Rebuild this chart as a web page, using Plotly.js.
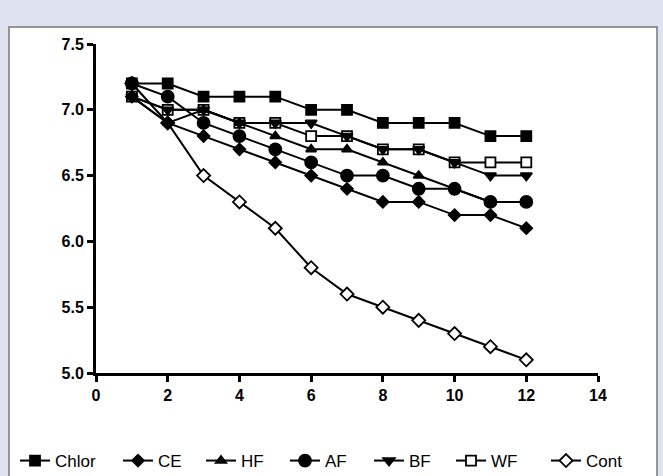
<!DOCTYPE html>
<html>
<head>
<meta charset="utf-8">
<script src="https://cdn.plot.ly/plotly-3.0.1.min.js"></script>
<style>html,body{margin:0;padding:0;background:#dfe3f0;}#chart{width:663px;height:476px;}</style>
</head>
<body>
<div id="chart"></div>
<script>
const days = [1,2,3,4,5,6,7,8,9,10,11,12];
const seriesNames = ["Chlor","CE","HF","AF","BF","WF","Cont"];
const chlor = [7.2,7.2,7.1,7.1,7.1,7.0,7.0,6.9,6.9,6.9,6.8,6.8];
const ce    = [7.1,6.9,6.8,6.7,6.6,6.5,6.4,6.3,6.3,6.2,6.2,6.1];
const hf    = [7.1,6.9,7.0,6.9,6.8,6.7,6.7,6.6,6.5,6.4,6.3,6.3];
const af    = [7.2,7.1,6.9,6.8,6.7,6.6,6.5,6.5,6.4,6.4,6.3,6.3];
const bf    = [7.1,7.0,7.0,6.9,6.9,6.9,6.8,6.7,6.7,6.6,6.5,6.5];
const wf    = [7.1,7.0,7.0,6.9,6.9,6.8,6.8,6.7,6.7,6.6,6.6,6.6];
const cont  = [7.2,6.9,6.5,6.3,6.1,5.8,5.6,5.5,5.4,5.3,5.2,5.1];
const xTicks = [0,2,4,6,8,10,12,14];
const yTicks = [5.0,5.5,6.0,6.5,7.0,7.5];

const values = [chlor,ce,hf,af,bf,wf,cont];
const symbols = ["square","diamond","triangle-up","circle","triangle-down","square","diamond"];
const sizes = [10,9,9,12,10,10,10];
const fills = ["black","black","black","black","black","white","white"];
// legend entry left edges (px) in the window
const legendStarts = [20,123,206,290,374,456,551];

const W = 663, H = 476, L = 96, R = 65, T = 44, B = 103;
const pw = W - L - R, ph = H - T - B;
const px = v => (v - L) / pw;
const py = v => (H - B - v) / ph;

const legendKey = i => (i === 0 ? "legend" : "legend" + (i + 1));

const traces = [];
for (let i = values.length - 1; i >= 0; i--) {
  traces.push({
    x: days, y: values[i], name: seriesNames[i], type: "scatter", mode: "lines+markers",
    legend: legendKey(i),
    line: {color: "black", width: 2},
    marker: {symbol: symbols[i], size: sizes[i], color: fills[i], line: {color: "black", width: 1.8}}
  });
}

const tickFont = {size: 16, family: "Liberation Sans, Arial", weight: "bold", color: "black"};
const layout = {
  width: W, height: H,
  margin: {l: L, r: R, t: T, b: B, pad: 0, autoexpand: false},
  paper_bgcolor: "#dfe3f0",
  plot_bgcolor: "rgba(0,0,0,0)",
  font: {family: "Liberation Sans, Arial, sans-serif", color: "black"},
  showlegend: true,
  xaxis: {range: [0, 14], tickvals: xTicks, ticktext: xTicks.map(String), showgrid: false, zeroline: false,
          showline: true, linecolor: "black", linewidth: 3, ticks: "outside", ticklen: 6, tickwidth: 3, tickcolor: "black",
          tickfont: tickFont},
  yaxis: {range: [5.0, 7.5], tickvals: yTicks, ticktext: yTicks.map(v => v.toFixed(1)), showgrid: false, zeroline: false,
          showline: true, linecolor: "black", linewidth: 3, ticks: "outside", ticklen: 6, tickwidth: 3, tickcolor: "black",
          tickfont: tickFont},
  shapes: [{type: "rect", xref: "paper", yref: "paper", layer: "below",
            x0: px(9), x1: px(657), y0: py(490), y1: py(27),
            fillcolor: "white", line: {color: "#777777", width: 1.5}}]
};
for (let i = 0; i < values.length; i++) {
  layout[legendKey(i)] = {
    orientation: "h", xref: "container", yref: "container",
    x: (legendStarts[i] - 5) / W, xanchor: "left",
    y: (H - 461) / H, yanchor: "middle",
    font: {size: 17, color: "black"}, bgcolor: "rgba(0,0,0,0)", borderwidth: 0, itemwidth: 30
  };
}

Plotly.newPlot("chart", traces, layout, {displayModeBar: false, staticPlot: true});
</script>
</body>
</html>
